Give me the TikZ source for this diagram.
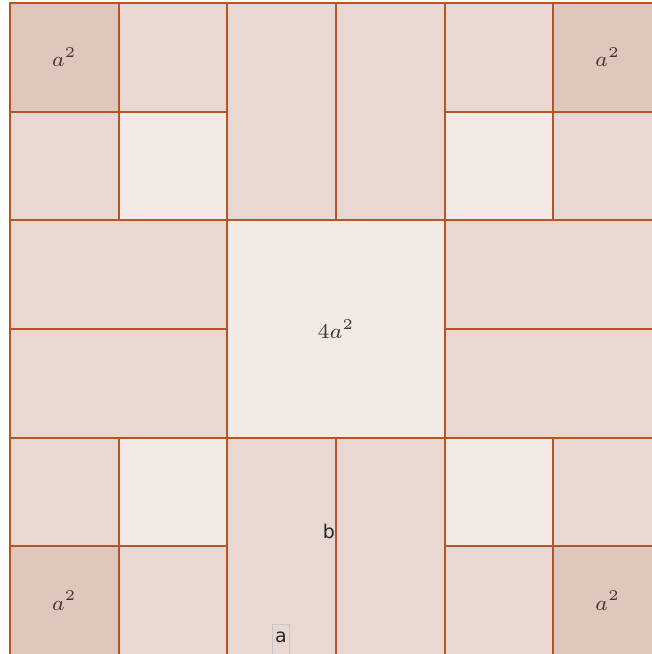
\documentclass[tikz,border=0pt]{standalone}
\usepackage{fontspec}
\newfontfamily\labelfont{DejaVu Sans}
\definecolor{edgebrown}{RGB}{181,84,36}
\definecolor{darktile}{RGB}{224,199,188}
\definecolor{midtile}{RGB}{233,216,209}
\definecolor{lighttile}{RGB}{243,234,230}
\definecolor{inkgray}{RGB}{60,55,52}
\tikzset{tile/.style={draw=edgebrown, line width=0.65pt, fill=midtile}}
\tikzset{area/.style={font=\fontsize{7}{8}\selectfont, text=inkgray}}
\tikzset{tag/.style={font=\labelfont\fontsize{6.3}{7}\selectfont, text=black!85, inner sep=0.8pt}}

\begin{document}
\begin{tikzpicture}[x=1.27cm, y=1.27cm]
    \useasboundingbox (-0.092,0.009) rectangle (5.908,6.028);

    % small squares
    \foreach \x/\y in {1/5, 4/5, 0/4, 5/4, 0/1, 5/1, 1/0, 4/0} {
    \draw[tile] (\x,\y) rectangle ++(1,1);
    }
    \foreach \x/\y in {1/4, 4/4, 1/1, 4/1} {
    \draw[tile, fill=lighttile] (\x,\y) rectangle ++(1,1);
    }

    % long pieces
    \foreach \x/\y in {2/4, 3/4, 2/0, 3/0} {
    \draw[tile] (\x,\y) rectangle ++(1,2);
    }
    \foreach \x/\y in {0/3, 0/2, 4/3, 4/2} {
    \draw[tile] (\x,\y) rectangle ++(2,1);
    }

    % middle
    \draw[tile, fill=lighttile] (2,2) rectangle (4,4);
    \node[area] (mid) at (3,3) {$4a^2$};

    % corners
    \foreach \x/\y in {0/5, 5/5, 0/0, 5/0} {
    \draw[tile, fill=darktile] (\x,\y) rectangle ++(1,1);
    \node[area] (c\x\y) at (\x+0.5,\y+0.5) {$a^2$};
    }

    \node[tag] (b) at (2.935,1.141) {b};
    \node[tag, draw=black!22, anchor=north, inner ysep=2.4pt, text depth=4pt] (a) at (2.494,0.285) {a};

\end{tikzpicture}
\end{document}
